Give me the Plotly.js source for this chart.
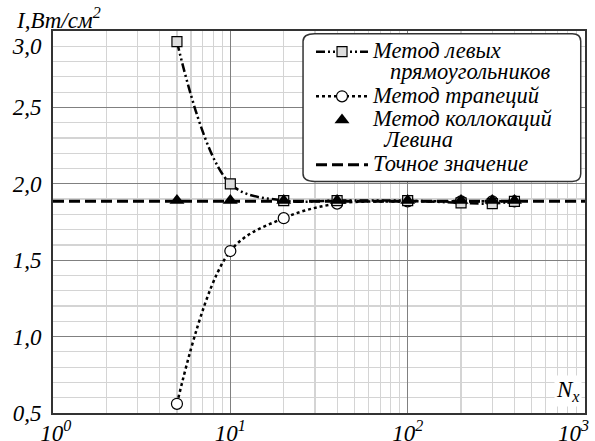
<!DOCTYPE html>
<html>
<head>
<meta charset="utf-8">
<script src="https://cdn.plot.ly/plotly-3.0.1.min.js"></script>
<style>html,body{margin:0;padding:0;background:#fff}#chart{width:595px;height:441px}</style>
</head>
<body>
<div id="chart"></div>
<script>
const N = [5, 10, 20, 40, 100, 200, 300, 400];
const leftRect = [2.93, 2.00, 1.89, 1.89, 1.89, 1.875, 1.87, 1.885];
const trapez = [0.56, 1.56, 1.775, 1.87, 1.885, 1.885, 1.885, 1.885];
const levin = [1.89, 1.89, 1.89, 1.89, 1.89, 1.89, 1.89, 1.89];
const exactX = [1, 1000];
const exactY = [1.886, 1.886];
const yTickVals = [0.5, 1.0, 1.5, 2.0, 2.5, 3.0];
const yTickText = ['0,5', '1,0', '1,5', '2,0', '2,5', '<br>3,0'];
const xTickVals = [1, 10, 100, 1000];
const NB = '\u00a0';
const xTickText = [NB + '10<sup>0</sup>', '10<sup>1</sup>', '10<sup>2</sup>', '10<sup>3</sup>' + NB.repeat(4)];

const serif = 'Liberation Serif';
const big = s => '<span style="font-size:22.5px">' + s + '</span>';

const traces = [
  {x: exactX, y: exactY, mode: 'lines', name: big('Точное значение'), legendrank: 4,
   line: {color: '#000', width: 3, dash: '11px,5px'}},
  {x: N, y: trapez, mode: 'lines+markers', name: big('Метод трапеций'), legendrank: 2,
   line: {color: '#000', width: 2.5, dash: 'dot', shape: 'spline'},
   marker: {symbol: 'circle', size: 11, color: '#fff', line: {color: '#000', width: 1.2}}},
  {x: N, y: leftRect, mode: 'lines+markers', name: big('Метод левых<br>' + NB.repeat(3) + 'прямоугольников'), legendrank: 1,
   line: {color: '#000', width: 2.5, dash: '9px,3px,2px,3px,2px,3px', shape: 'spline'},
   marker: {symbol: 'square', size: 10, color: '#ddd', line: {color: '#000', width: 1.2}}},
  {x: N, y: levin, mode: 'markers', name: big('Метод коллокаций<br>' + NB.repeat(2) + 'Левина'), legendrank: 3,
   marker: {symbol: 'triangle-up', size: 13, color: '#000', line: {color: '#000', width: 0}}}
];

const layout = {
  width: 595, height: 441,
  margin: {l: 53, r: 10, t: 31, b: 28},
  paper_bgcolor: '#fff', plot_bgcolor: '#fff',
  font: {family: serif, color: '#000'},
  showlegend: true,
  legend: {
    x: 0.485, y: 0.99, xanchor: 'left', yanchor: 'top', valign: 'top',
    bgcolor: 'rgba(0,0,0,0)', borderwidth: 0,
    font: {family: serif, size: 16, style: 'italic', color: '#000'},
    itemwidth: 52, tracegroupgap: 0, traceorder: 'normal'
  },
  xaxis: {
    type: 'log', range: [0, 3],
    tickvals: xTickVals, ticktext: xTickText,
    tickfont: {family: serif, size: 23, style: 'italic'},
    ticklabeloverflow: 'allow', ticklabelstandoff: -2,
    showgrid: true, gridcolor: '#808080', gridwidth: 1,
    minor: {dtick: 'D1', showgrid: true, gridcolor: '#d4d4d4', gridwidth: 1.2, ticks: ''},
    showline: true, linecolor: '#333', linewidth: 2, mirror: true,
    ticks: '', zeroline: false
  },
  yaxis: {
    range: [0.5, 3.0],
    tickvals: yTickVals, ticktext: yTickText,
    tickfont: {family: serif, size: 23, style: 'italic'},
    ticklabeloverflow: 'allow',
    showgrid: true, gridcolor: '#808080', gridwidth: 1,
    minor: {dtick: 0.1, showgrid: true, gridcolor: '#d4d4d4', gridwidth: 1.2, ticks: ''},
    showline: true, linecolor: '#333', linewidth: 2, mirror: true,
    ticks: '', ticklabelstandoff: 5, zeroline: false
  },
  shapes: [{
    type: 'path', xref: 'paper', yref: 'paper', layer: 'above',
    path: 'M 0.492 0.993 L 0.976 0.993 Q 0.992 0.993 0.992 0.973 L 0.992 0.626 Q 0.992 0.606 0.976 0.606 L 0.492 0.606 Q 0.470 0.606 0.470 0.626 L 0.470 0.973 Q 0.470 0.993 0.492 0.993 Z',
    fillcolor: '#fff', line: {color: '#333', width: 1.5}
  }],
  annotations: [
    {text: 'I,Вт/см<sup>2</sup>', xref: 'paper', yref: 'paper', x: -0.074, y: 1.075,
     xanchor: 'left', yanchor: 'top', showarrow: false,
     font: {family: serif, size: 23, style: 'italic', color: '#000'}},
    {text: 'N<sub>x</sub>', xref: 'paper', yref: 'paper', x: 0.995, y: 0.015,
     xanchor: 'right', yanchor: 'bottom', showarrow: false, bgcolor: '#fff',
     font: {family: serif, size: 23, style: 'italic', color: '#000'}}
  ]
};

Plotly.newPlot('chart', traces, layout, {displayModeBar: false, staticPlot: true});
</script>
</body>
</html>
